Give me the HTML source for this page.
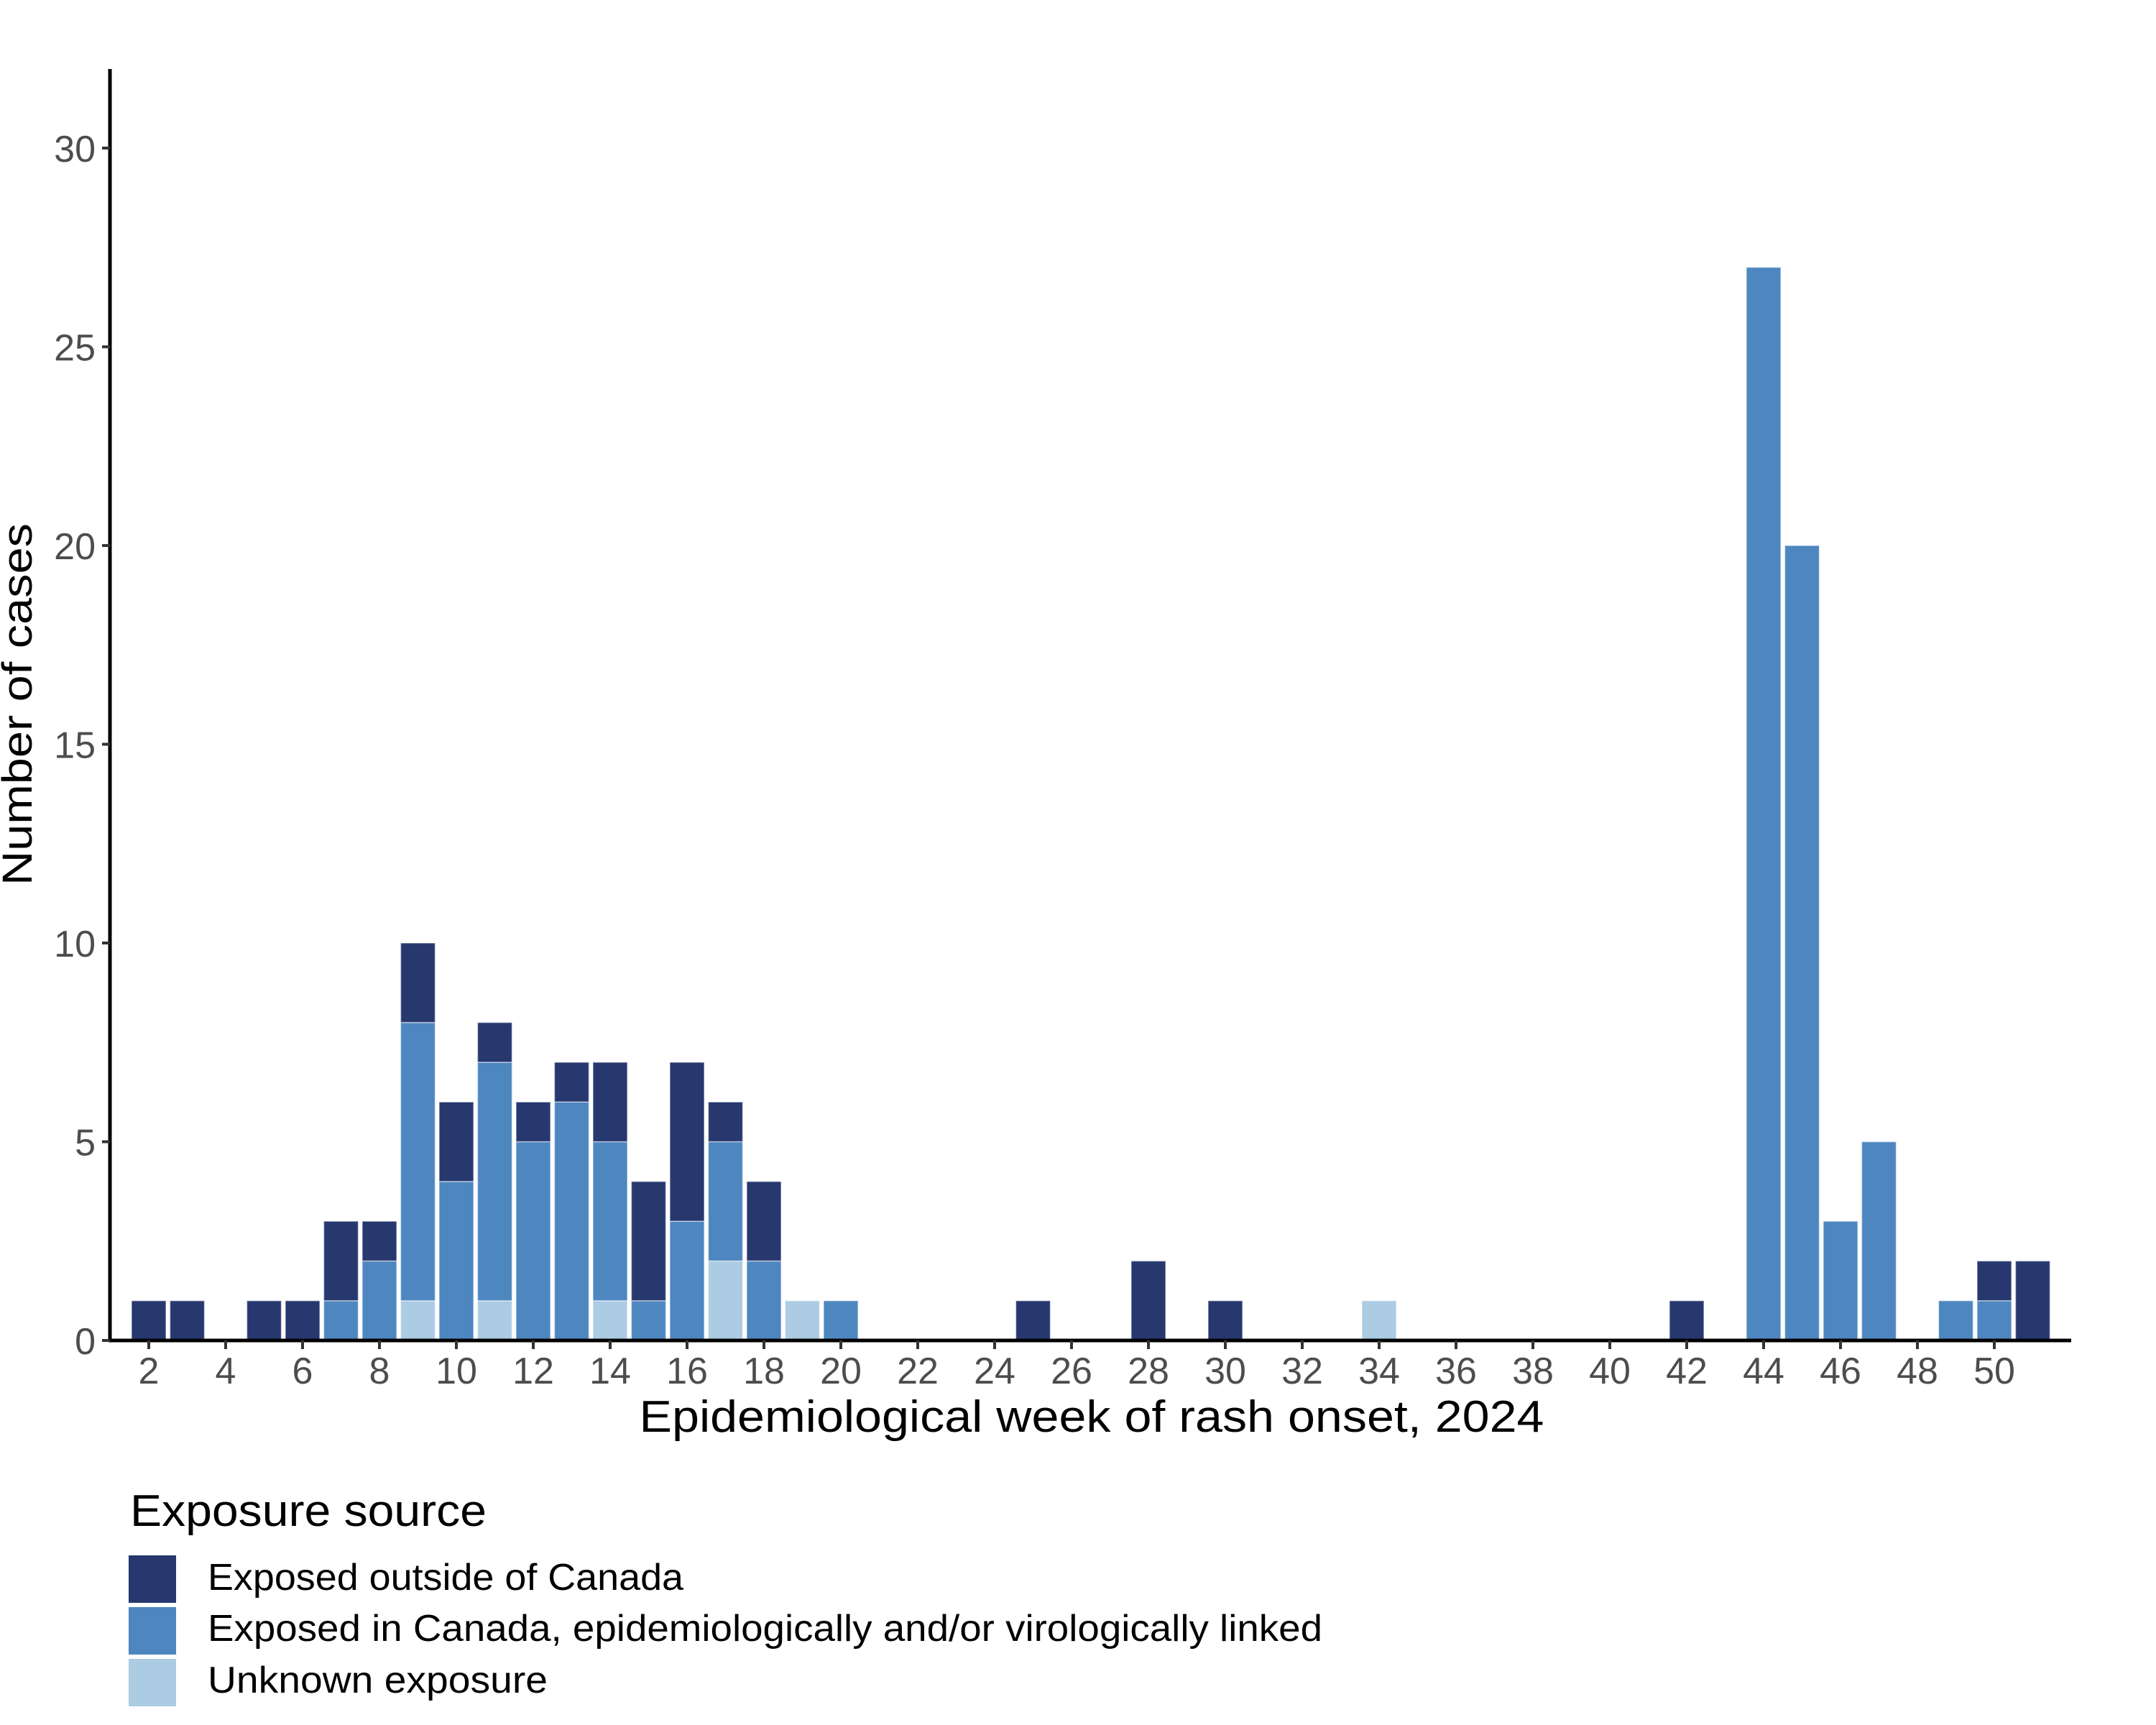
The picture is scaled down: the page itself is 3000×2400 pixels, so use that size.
<!DOCTYPE html>
<html><head><meta charset="utf-8"><style>
html,body{margin:0;padding:0;background:#fff;}
svg{display:block;font-family:"Liberation Sans",sans-serif;}
</style></head><body>
<svg id="chart" width="3000" height="2400" viewBox="0 0 3000 2400" xmlns="http://www.w3.org/2000/svg">
<g id="bars"></g>
<g id="axes"></g>
<text transform="translate(44,980) rotate(-90)" text-anchor="middle" font-size="58" fill="#000" textLength="504" lengthAdjust="spacingAndGlyphs">Number of cases</text>
<text x="1519" y="1992" text-anchor="middle" font-size="62" fill="#000" textLength="1259" lengthAdjust="spacingAndGlyphs">Epidemiological week of rash onset, 2024</text>
<g>
<text x="181" y="2123" font-size="62" fill="#000" textLength="496" lengthAdjust="spacingAndGlyphs">Exposure source</text>
<rect x="179" y="2164" width="66" height="66" fill="#27386F"/>
<rect x="179" y="2236" width="66" height="66" fill="#4E86C0"/>
<rect x="179" y="2308" width="66" height="66" fill="#ABCCE3"/>
<text x="289" y="2212" font-size="52" fill="#000" textLength="662" lengthAdjust="spacingAndGlyphs">Exposed outside of Canada</text>
<text x="289" y="2283" font-size="52" fill="#000" textLength="1551" lengthAdjust="spacingAndGlyphs">Exposed in Canada, epidemiologically and/or virologically linked</text>
<text x="289" y="2355" font-size="52" fill="#000" textLength="473" lengthAdjust="spacingAndGlyphs">Unknown exposure</text>
</g>
</svg>
<script>
const weeks    = [2,3,5,6,7,8,9,10,11,12,13,14,15,16,17,18,19,20,25,28,30,34,42,44,45,46,47,49,50,51];
const unknown  = [0,0,0,0,0,0,1,0,1,0,0,1,0,0,2,0,1,0,0,0,0,1,0,0,0,0,0,0,0,0];
const canada   = [0,0,0,0,1,2,7,4,6,5,6,4,1,3,3,2,0,1,0,0,0,0,0,27,20,3,5,1,1,0];
const outside  = [1,1,1,1,2,1,2,2,1,1,1,2,3,4,1,2,0,0,1,2,1,0,1,0,0,0,0,0,1,2];
const yTicks   = [0,5,10,15,20,25,30];
const xTicks   = [2,4,6,8,10,12,14,16,18,20,22,24,26,28,30,32,34,36,38,40,42,44,46,48,50];

const NS="http://www.w3.org/2000/svg";
const X0=207, XSTEP=53.5, Y0=1865, YSTEP=(1865-206)/30, BW=48;
function xScale(w){return X0+(w-2)*XSTEP;}
function yScale(v){return Y0-v*YSTEP;}
function mk(tag,attrs,parent){const e=document.createElementNS(NS,tag);for(const k in attrs)e.setAttribute(k,attrs[k]);parent.appendChild(e);return e;}

const bars=document.getElementById('bars');
const series=[["unknown",unknown,"#ABCCE3"],["canada",canada,"#4E86C0"],["outside",outside,"#27386F"]];
weeks.forEach((w,i)=>{
  let base=0;
  series.forEach(([name,arr,col])=>{
    const v=arr[i];
    if(v>0){
      const r=mk('rect',{x:xScale(w)-BW/2,y:yScale(base+v),width:BW,height:yScale(base)-yScale(base+v),fill:col,stroke:"#ffffff","stroke-opacity":"0.5","stroke-width":"1.5"},bars);
      
      
    }
    base+=v;
  });
});

const ax=document.getElementById('axes');
const yl=mk('line',{x1:153,y1:96,x2:153,y2:1867,stroke:"#000","stroke-width":"5"},ax);


const xl=mk('line',{x1:151,y1:1865,x2:2882,y2:1865,stroke:"#000","stroke-width":"5"},ax);


yTicks.forEach(t=>{
  const y=yScale(t);
  const tk=mk('line',{x1:142,y1:y,x2:153,y2:y,stroke:"#333","stroke-width":"4"},ax);
  
  
  const tx=mk('text',{x:133,y:y+19,"text-anchor":"end","font-size":"52",fill:"#4d4d4d"},ax);
  tx.textContent=t;
  
  
});
xTicks.forEach(t=>{
  const x=xScale(t);
  const tk=mk('line',{x1:x,y1:1865,x2:x,y2:1877,stroke:"#333","stroke-width":"4"},ax);
  
  
  const tx=mk('text',{x:x,y:1925,"text-anchor":"middle","font-size":"52",fill:"#4d4d4d"},ax);
  tx.textContent=t;
  
  
});
</script>
</body></html>
